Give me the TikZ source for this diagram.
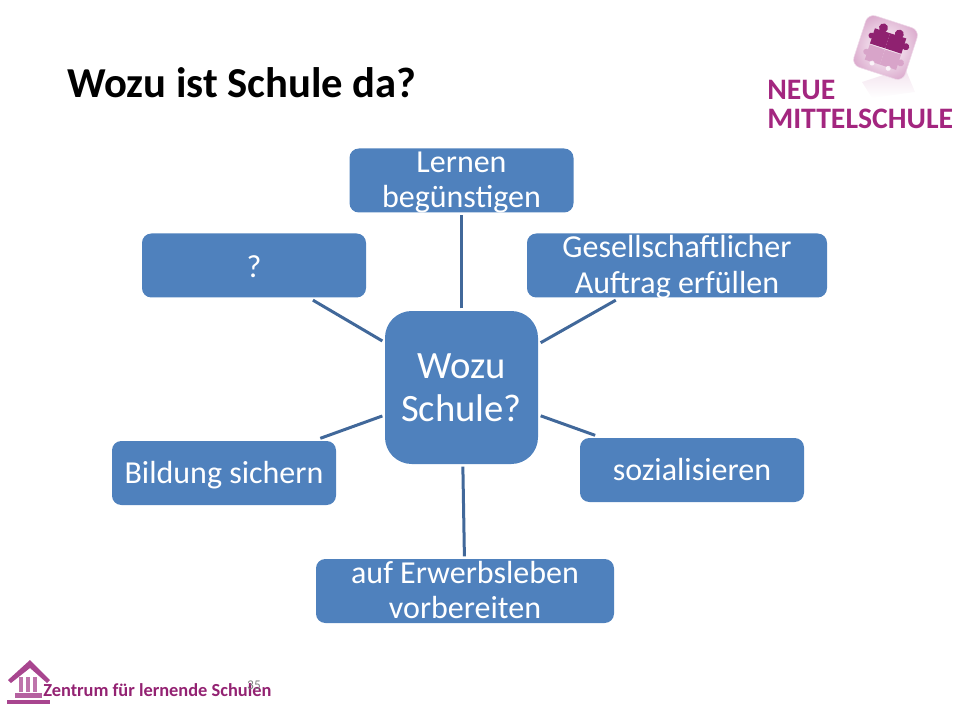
\documentclass[tikz,border=0pt]{standalone}
\usepackage{fontspec}
\setmainfont{Carlito}
\definecolor{boxblue}{HTML}{4F81BD}
\definecolor{linkblue}{HTML}{41689A}
\definecolor{logomag}{HTML}{A3267F}
\definecolor{housemag}{HTML}{A8458F}
\tikzset{
	topic/.style = {draw=none, fill=boxblue, text=white, align=center, inner sep=0pt, outer sep=2pt, rounded corners=7pt, minimum height=48pt, text depth=1.5pt, font=\fontsize{24}{26.5}\selectfont},
	hub/.style = {topic, minimum width=114.75pt, minimum height=114.75pt, rounded corners=20pt, text depth=0pt, font=\fontsize{29}{32.5}\selectfont},
	link/.style = {draw=linkblue, line width=2.25pt},
	logotext/.style = {inner sep=0pt, anchor=west, text=logomag, font=\fontsize{22.3}{22.3}\selectfont\bfseries},
	darkbit/.style = {fill=logomag!88!black},
	lightbit/.style = {fill=logomag!42}
}
\begin{document}
\begin{tikzpicture}[x=0.75pt, y=-0.75pt]
	\useasboundingbox (0,0) rectangle (960,720);
	\node [inner sep=0pt, anchor=west, font=\fontsize{32}{38}\selectfont\bfseries] (title) at (67,83) {Wozu ist Schule da?};

	\node [hub] (hub) at (461.5,387.5) {Wozu\\Schule?};
	\node [topic, minimum width=168pt] (lernen) at (461.5,180.5) {Lernen\\begünstigen};
	\node [topic, minimum width=225pt] (auftrag) at (677,265.5) {Gesellschaftlicher\\Auftrag erfüllen};
	\node [topic, minimum width=168pt] (sozial) at (692,470) {sozialisieren};
	\node [topic, minimum width=223.5pt] (erwerb) at (465,591) {auf Erwerbsleben\\vorbereiten};
	\node [topic, minimum width=168pt] (bildung) at (224,473) {Bildung sichern};
	\node [topic, minimum width=168pt, text height=18pt, text depth=0pt] (frage) at (254,265.5) {?};

	\foreach \target in {lernen, auftrag, sozial, erwerb, bildung, frage}
		\draw [link] (hub) -- (\target);

	\shade [top color=logomag!14, bottom color=white] (862,82) -- (905,68) -- (915,92) -- (872,98) -- cycle;
	\begin{scope}[shift={(885.5,47.5)}, rotate=-18]
		\shade [rounded corners=6pt, draw=logomag!18, inner color=white, outer color=logomag!38] (-27,-27) rectangle (27,27);
		\path [darkbit] (-16,-15) rectangle (0,1);
		\path [darkbit] (0,-15) rectangle (17,1);
		\path [darkbit] (-8,-18) circle (4.5);
		\path [darkbit] (9,-17) circle (4.5);
		\path [darkbit] (19,-7) circle (3.5);
		\path [darkbit] (-17,-7) circle (3);
		\path [lightbit] (-16,2) rectangle (0,18);
		\path [lightbit] (0,2) rectangle (17,18);
		\path [lightbit] (19,10) circle (3.5);
		\path [lightbit] (-17,10) circle (3);
		\fill [white, opacity=0.8] (-8,19) circle (2.5);
		\fill [white, opacity=0.8] (9,19) circle (2.5);
	\end{scope}
	\node [logotext] (neue) at (767,90) {NEUE};
	\node [logotext] (mittelschule) at (767,119) {MITTELSCHULE};

	\fill [housemag] (8,680) -- (30,660) -- (50,680) -- (47,683) -- (30,668) -- (11,683) -- cycle;
	\foreach \xpos in {19,26,33}
		\fill [housemag!75] (\xpos,677) rectangle ++(4,15);
	\fill [housemag!85] (15,693) rectangle (42,698);
	\fill [housemag] (7,700) rectangle (50,704);
	\node [inner sep=0pt, anchor=west, text=logomag!90!black, font=\fontsize{13.8}{14}\selectfont\bfseries] (zentrum) at (43,690) {Zentrum für lernende Schulen};
	\node [inner sep=0pt, text=gray, font=\fontsize{10}{10}\selectfont] (seite) at (254,685) {35};
\end{tikzpicture}
\end{document}
